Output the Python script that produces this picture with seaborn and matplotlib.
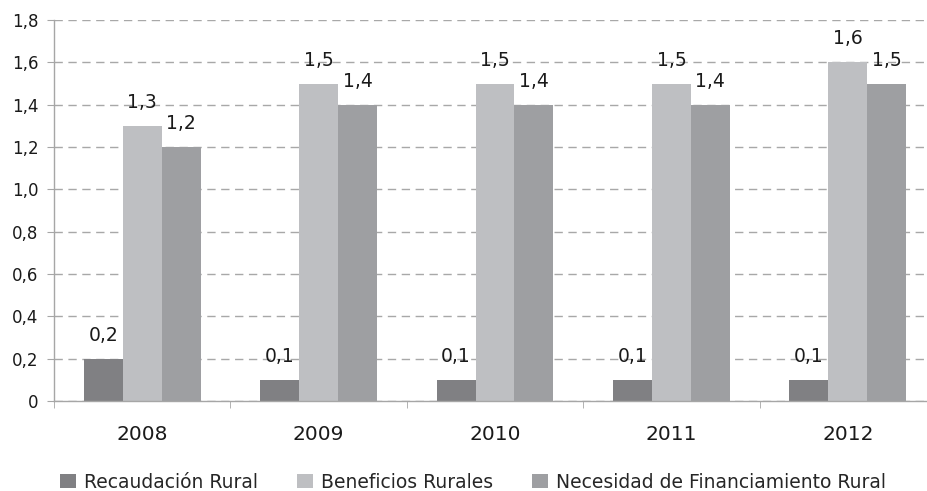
import matplotlib
matplotlib.use('Agg')
import matplotlib.pyplot as plt
from matplotlib.ticker import FixedLocator
import seaborn as sns
import pandas as pd

# ---- data ----
years = ['2008', '2009', '2010', '2011', '2012']
recaudacion = [0.2, 0.1, 0.1, 0.1, 0.1]
beneficios = [1.3, 1.5, 1.5, 1.5, 1.6]
necesidad = [1.2, 1.4, 1.4, 1.4, 1.5]
series_names = ['Recaudación Rural', 'Beneficios Rurales',
                'Necesidad de Financiamiento Rural']
yticks = [0, 0.2, 0.4, 0.6, 0.8, 1.0, 1.2, 1.4, 1.6, 1.8]
ytick_labels = ['0', '0,2', '0,4', '0,6', '0,8', '1,0', '1,2', '1,4', '1,6', '1,8']

colors = ['#808083', '#bebfc2', '#9e9fa2']

df = pd.DataFrame({
    'Año': years * 3,
    'Serie': [n for n in series_names for _ in years],
    'Valor': recaudacion + beneficios + necesidad,
})

sns.set_style('white')
plt.rcParams['font.family'] = ['DejaVu Sans']

fig = plt.figure(figsize=(9.27, 4.91), dpi=100)
ax = fig.add_axes([54 / 927, 90 / 491, 882 / 927, 381 / 491])

sns.barplot(data=df, x='Año', y='Valor', hue='Serie', hue_order=series_names,
            palette=colors, width=0.663, saturation=1, errorbar=None,
            ax=ax, zorder=2, linewidth=0)

ax.set_xlim(-0.5, 4.5)
ax.set_ylim(0, 1.8)
ax.set_yticks(yticks)
ax.set_yticklabels(ytick_labels, fontsize=12, color='#1a1a1a')
ax.set_xlabel('')
ax.set_ylabel('')

ax.grid(axis='y', linestyle=(0, (6, 4)), color='#a8a8a8', linewidth=1.0, zorder=0)
ax.set_axisbelow(True)

for s in ['top', 'right']:
    ax.spines[s].set_visible(False)
for s in ['left', 'bottom']:
    ax.spines[s].set_color('#a6a6a6')
    ax.spines[s].set_linewidth(1.0)

ax.tick_params(axis='y', which='major', length=5, color='#a6a6a6', pad=6, direction='out', left=True)
ax.tick_params(axis='x', which='major', length=0, pad=17, labelsize=14.5, labelcolor='#1a1a1a')
ax.xaxis.set_minor_locator(FixedLocator([-0.5, 0.5, 1.5, 2.5, 3.5, 4.5]))
ax.tick_params(axis='x', which='minor', length=5, color='#a6a6a6', direction='out', bottom=True)

for cont in ax.containers:
    vals = [b.get_height() for b in cont]
    labels = [f'{v:.1f}'.replace('.', ',') for v in vals]
    ax.bar_label(cont, labels=labels, padding=10, fontsize=13.5, color='#1a1a1a')

handles, labels = ax.get_legend_handles_labels()
if ax.legend_:
    ax.legend_.remove()
fig.legend(handles, labels, loc='center', bbox_to_anchor=(473 / 927, 1 - 482 / 491),
           ncol=3, frameon=False, fontsize=13.5, handlelength=0.85, handleheight=0.85,
           handletextpad=0.4, columnspacing=2.1, borderaxespad=0, borderpad=0)

fig.savefig('out.png', dpi=100)
